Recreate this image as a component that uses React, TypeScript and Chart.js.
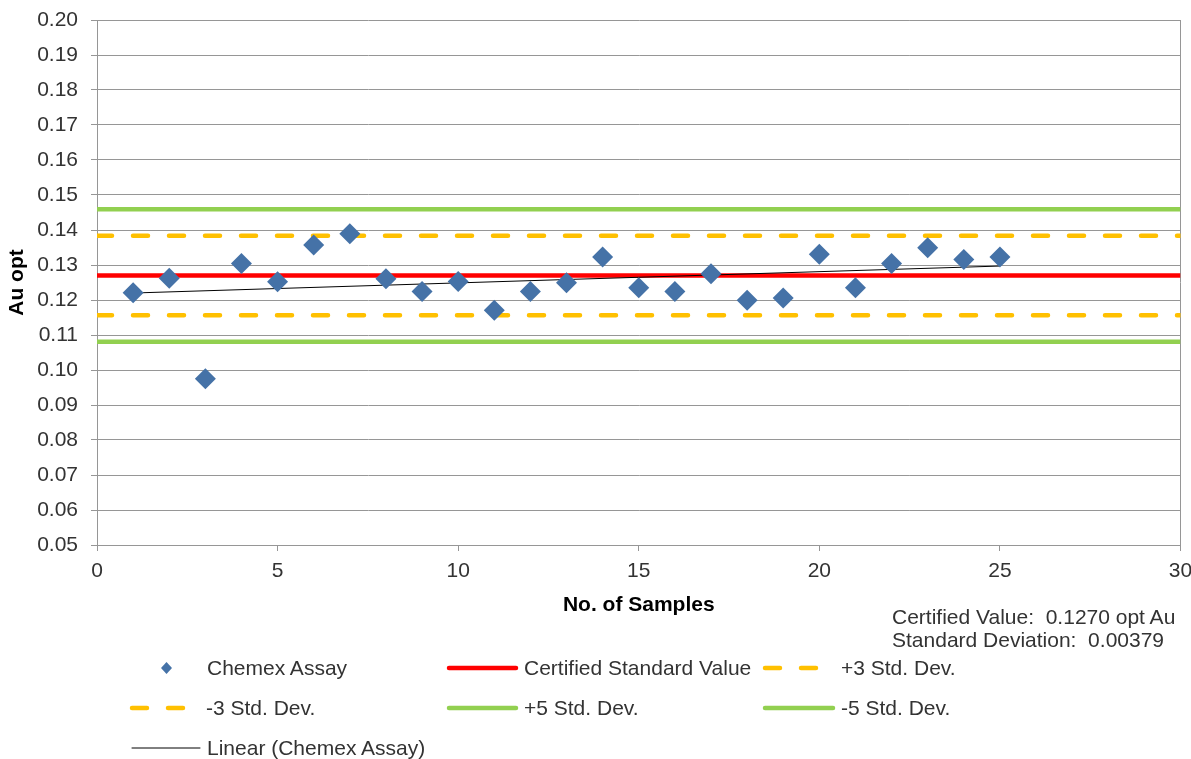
import React, { useEffect, useRef } from 'react';
import { Chart, registerables } from 'chart.js';

Chart.register(...registerables);

// ---------------- data ----------------
const SAMPLE_NO = [1, 2, 3, 4, 5, 6, 7, 8, 9, 10, 11, 12, 13, 14, 15, 16, 17, 18, 19, 20, 21, 22, 23, 24, 25];
const CHEMEX_ASSAY = [
  0.1221, 0.1262, 0.0975, 0.1304, 0.1252, 0.1357, 0.1389, 0.1261, 0.1224, 0.1253,
  0.1171, 0.1224, 0.1249, 0.1323, 0.1235, 0.1224, 0.1275, 0.1199, 0.1206, 0.1331,
  0.1235, 0.1304, 0.1349, 0.1316, 0.1323,
];
const CERTIFIED_VALUE = 0.127;
const STD_DEV = 0.00379;
const X_RANGE = [0, 30];
const X_STEP = 5;
const Y_RANGE = [0.05, 0.2];
const Y_STEP = 0.01;
const STATS_TEXT = ['Certified Value:  0.1270 opt Au', 'Standard Deviation:  0.00379'];
const X_TITLE = 'No. of Samples';
const Y_TITLE = 'Au opt';

// ---------------- styles ----------------
const FONT = '"Liberation Sans", Arial, Helvetica, sans-serif';
const TEXT_COLOR = '#333333';
const GRID_COLOR = '#969696';
const BLUE = '#4572A7';
const RED = '#FF0000';
const ORANGE = '#FFC000';
const GREEN = '#92D050';
const DASH = [15, 21];

// least-squares trend of the assay series
function linearTrend(xs: number[], ys: number[]) {
  const n = xs.length;
  const mx = xs.reduce((a, b) => a + b, 0) / n;
  const my = ys.reduce((a, b) => a + b, 0) / n;
  let sxy = 0;
  let sxx = 0;
  for (let i = 0; i < n; i++) {
    sxy += (xs[i] - mx) * (ys[i] - my);
    sxx += (xs[i] - mx) * (xs[i] - mx);
  }
  const slope = sxy / sxx;
  const icpt = my - slope * mx;
  const x0 = xs[0];
  const x1 = xs[n - 1];
  return [
    { x: x0, y: icpt + slope * x0 },
    { x: x1, y: icpt + slope * x1 },
  ];
}

const hline = (v: number) => X_RANGE.map((x) => ({ x, y: v }));

type LegendItem = {
  label: string;
  kind: 'marker' | 'line';
  color: string;
  width: number;
  dash?: number[];
  // layout
  x1: number;
  x2: number;
  cy: number;
  tx: number;
};

const LEGEND: LegendItem[] = [
  { label: 'Chemex Assay', kind: 'marker', color: BLUE, width: 0, x1: 161, x2: 172, cy: 668, tx: 207 },
  { label: 'Certified Standard Value', kind: 'line', color: RED, width: 4.5, x1: 449, x2: 516, cy: 668, tx: 524 },
  { label: '+3 Std. Dev.', kind: 'line', color: ORANGE, width: 4.5, dash: DASH, x1: 765, x2: 816, cy: 668, tx: 841 },
  { label: '-3 Std. Dev.', kind: 'line', color: ORANGE, width: 4.5, dash: DASH, x1: 132, x2: 183, cy: 708, tx: 206 },
  { label: '+5 Std. Dev.', kind: 'line', color: GREEN, width: 4.5, x1: 449, x2: 516, cy: 708, tx: 524 },
  { label: '-5 Std. Dev.', kind: 'line', color: GREEN, width: 4.5, x1: 765, x2: 833, cy: 708, tx: 841 },
  { label: 'Linear (Chemex Assay)', kind: 'line', color: '#000000', width: 1, x1: 132, x2: 200, cy: 748, tx: 207 },
];

export default function App() {
  const canvasRef = useRef<HTMLCanvasElement | null>(null);

  useEffect(() => {
    const canvas = canvasRef.current;
    if (!canvas) return;

    const lineDs = (label: string, v: number, color: string, dash: number[] = [], order = 3) => ({
      label,
      data: hline(v),
      showLine: true,
      borderColor: color,
      backgroundColor: color,
      borderWidth: 4.5,
      borderDash: dash,
      borderCapStyle: dash.length ? ('round' as const) : ('butt' as const),
      pointRadius: 0,
      order,
    });

    const chart = new Chart(canvas, {
      type: 'scatter',
      data: {
        datasets: [
          {
            label: 'Chemex Assay',
            data: SAMPLE_NO.map((x, i) => ({ x, y: CHEMEX_ASSAY[i] })),
            pointStyle: 'rectRot',
            pointRadius: 10.5,
            pointBackgroundColor: BLUE,
            pointBorderColor: BLUE,
            pointBorderWidth: 0,
            order: 0,
          },
          {
            label: 'Linear (Chemex Assay)',
            data: linearTrend(SAMPLE_NO, CHEMEX_ASSAY),
            showLine: true,
            borderColor: '#000000',
            borderWidth: 1,
            pointRadius: 0,
            order: 1,
          },
          lineDs('Certified Standard Value', CERTIFIED_VALUE, RED, [], 2),
          lineDs('+3 Std. Dev.', CERTIFIED_VALUE + 3 * STD_DEV, ORANGE, DASH),
          lineDs('-3 Std. Dev.', CERTIFIED_VALUE - 3 * STD_DEV, ORANGE, DASH),
          lineDs('+5 Std. Dev.', CERTIFIED_VALUE + 5 * STD_DEV, GREEN),
          lineDs('-5 Std. Dev.', CERTIFIED_VALUE - 5 * STD_DEV, GREEN),
        ],
      },
      options: {
        animation: false,
        responsive: false,
        events: [],
        layout: { padding: { top: 20, right: 10, bottom: 139, left: 0 } },
        plugins: {
          legend: { display: false },
          tooltip: { enabled: false },
        },
        scales: {
          x: {
            type: 'linear',
            min: X_RANGE[0],
            max: X_RANGE[1],
            ticks: {
              stepSize: X_STEP,
              padding: 8,
              color: TEXT_COLOR,
              font: { family: FONT, size: 21 },
              maxRotation: 0,
            },
            grid: {
              color: (ctx: any) => (ctx.tick && ctx.tick.value === X_RANGE[1] ? GRID_COLOR : 'rgba(0,0,0,0)'),
              tickColor: GRID_COLOR,
              tickLength: 6,
              lineWidth: 1,
            },
            border: { color: GRID_COLOR, width: 1 },
            title: {
              display: true,
              text: X_TITLE,
              color: '#000000',
              font: { family: FONT, size: 21, weight: 'bold' },
              padding: { top: 0, bottom: 2 },
            },
            afterFit: (scale: any) => {
              scale.height = 75;
              scale.paddingLeft = 0;
              scale.paddingRight = 0;
            },
          },
          y: {
            type: 'linear',
            min: Y_RANGE[0],
            max: Y_RANGE[1],
            ticks: {
              stepSize: Y_STEP,
              padding: 13,
              color: TEXT_COLOR,
              font: { family: FONT, size: 21 },
              callback: (v: any) => Number(v).toFixed(2),
            },
            grid: {
              color: GRID_COLOR,
              tickColor: GRID_COLOR,
              tickLength: 6,
              lineWidth: 1,
            },
            border: { color: GRID_COLOR, width: 1 },
            title: {
              display: true,
              text: Y_TITLE,
              color: '#000000',
              font: { family: FONT, size: 21, weight: 'bold' },
              padding: { top: 5, bottom: 0 },
            },
            afterFit: (scale: any) => {
              scale.width = 97;
              scale.paddingTop = 0;
              scale.paddingBottom = 0;
            },
          },
        },
      } as any,
    });

    return () => chart.destroy();
  }, []);

  const textStyle: React.CSSProperties = {
    position: 'absolute',
    fontFamily: FONT,
    fontSize: 21,
    lineHeight: '24px',
    height: 24,
    color: TEXT_COLOR,
    whiteSpace: 'pre',
  };

  return (
    <div style={{ position: 'absolute', left: 0, top: 0, width: 1191, height: 759, background: '#ffffff', overflow: 'hidden' }}>
      <canvas ref={canvasRef} width={1191} height={759} style={{ position: 'absolute', left: 0, top: 0, width: 1191, height: 759 }} />
      {STATS_TEXT.map((t, i) => (
        <div key={t} style={{ ...textStyle, left: 892, top: [617, 640][i] - 12 }}>
          {t}
        </div>
      ))}
      {LEGEND.map((it) => (
        <React.Fragment key={it.label}>
          <svg
            style={{ position: 'absolute', left: 0, top: 0, overflow: 'visible' }}
            width={1}
            height={1}
          >
            {it.kind === 'marker' ? (
              <polygon
                points={`${(it.x1 + it.x2) / 2},${it.cy - 6} ${it.x2},${it.cy} ${(it.x1 + it.x2) / 2},${it.cy + 6} ${it.x1},${it.cy}`}
                fill={it.color}
              />
            ) : (
              <line
                x1={it.x1}
                x2={it.x2}
                y1={it.cy}
                y2={it.cy}
                stroke={it.color}
                strokeWidth={it.width}
                strokeLinecap="round"
                strokeDasharray={it.dash ? it.dash.join(' ') : undefined}
              />
            )}
          </svg>
          <div style={{ ...textStyle, left: it.tx, top: it.cy - 12 }}>{it.label}</div>
        </React.Fragment>
      ))}
    </div>
  );
}
